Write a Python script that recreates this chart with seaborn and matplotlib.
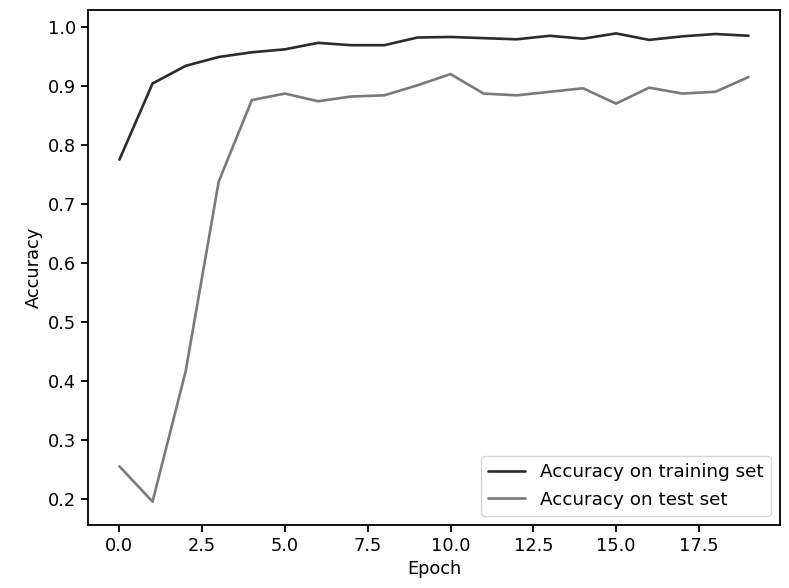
import matplotlib
matplotlib.use("Agg")
import matplotlib.pyplot as plt
import seaborn as sns
import pandas as pd

epochs = list(range(20))
train_acc = [0.775, 0.904, 0.934, 0.949, 0.957, 0.962, 0.973, 0.969, 0.969, 0.982,
             0.983, 0.981, 0.979, 0.985, 0.980, 0.989, 0.978, 0.984, 0.988, 0.985]
test_acc = [0.255, 0.195, 0.416, 0.738, 0.876, 0.887, 0.874, 0.882, 0.884, 0.901,
            0.920, 0.887, 0.884, 0.890, 0.896, 0.870, 0.897, 0.887, 0.890, 0.915]
series_names = ["Accuracy on training set", "Accuracy on test set"]

df = pd.DataFrame({
    "Epoch": epochs * 2,
    "Accuracy": train_acc + test_acc,
    "Series": [series_names[0]] * 20 + [series_names[1]] * 20,
})

sns.set_style("ticks")
plt.rcParams["font.family"] = ["DejaVu Sans"]
fs = 12.8
plt.rcParams.update({
    "font.size": fs,
    "text.color": "black",
    "axes.labelcolor": "black",
    "xtick.color": "black",
    "ytick.color": "black",
    "axes.edgecolor": "black",
})

fig = plt.figure(figsize=(7.89, 5.88), dpi=100)
ax = fig.add_axes([0.1115, 0.107, 0.877, 0.876])
sns.lineplot(data=df, x="Epoch", y="Accuracy", hue="Series",
             palette=["#2b2b2b", "#7a7a7a"], linewidth=1.9, ax=ax)
leg = ax.legend(title=None, loc="lower right", fontsize=13.2)
leg.get_frame().set_edgecolor("#cccccc")
ax.tick_params(labelsize=fs, width=1.3, length=5)
for s in ax.spines.values():
    s.set_linewidth(1.3)
ax.set_xlabel("Epoch", fontsize=fs)
ax.set_ylabel("Accuracy", fontsize=fs)
ax.set_xticks([0, 2.5, 5, 7.5, 10, 12.5, 15, 17.5])
ax.set_xticklabels(["0.0", "2.5", "5.0", "7.5", "10.0", "12.5", "15.0", "17.5"])
ax.set_yticks([0.2, 0.3, 0.4, 0.5, 0.6, 0.7, 0.8, 0.9, 1.0])
ax.set_yticklabels(["0.2", "0.3", "0.4", "0.5", "0.6", "0.7", "0.8", "0.9", "1.0"])
fig.savefig("out.png", dpi=100)
